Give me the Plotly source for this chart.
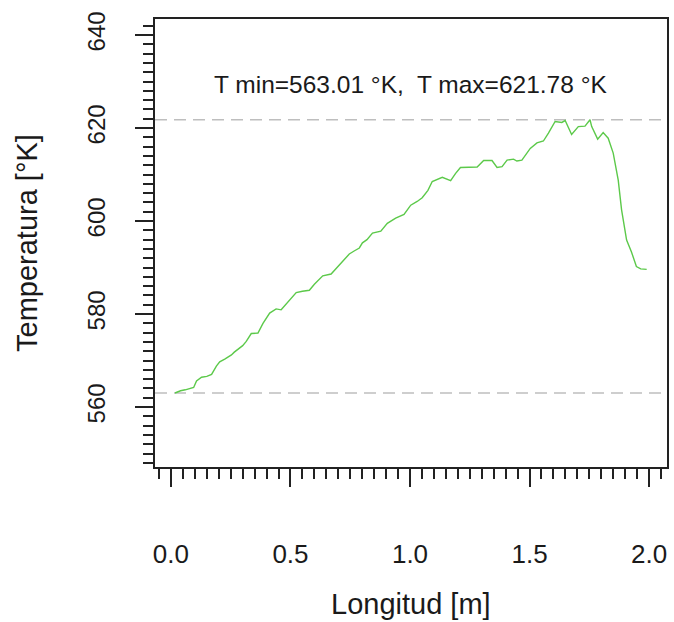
import plotly.graph_objects as go

# Data
longitud = [0.017, 0.04, 0.06, 0.079, 0.095, 0.107, 0.128, 0.15, 0.170, 0.19,
            0.204, 0.225, 0.253, 0.265, 0.280, 0.30, 0.315, 0.336, 0.364, 0.385,
            0.413, 0.440, 0.461, 0.482, 0.50, 0.524, 0.55, 0.579, 0.600, 0.614,
            0.635, 0.670, 0.704, 0.725, 0.746, 0.768, 0.788, 0.801, 0.82, 0.843,
            0.878, 0.905, 0.940, 0.975, 1.003, 1.03, 1.051, 1.075, 1.093, 1.135,
            1.170, 1.19, 1.211, 1.281, 1.308, 1.343, 1.364, 1.385, 1.406, 1.433,
            1.447, 1.468, 1.49, 1.503, 1.531, 1.558, 1.579, 1.595, 1.607, 1.635,
            1.649, 1.676, 1.704, 1.732, 1.753, 1.760, 1.785, 1.808, 1.829, 1.850,
            1.871, 1.885, 1.906, 1.926, 1.947, 1.965, 1.990]
temperatura = [563.01, 563.5, 563.7, 564.0, 564.2, 565.6, 566.4, 566.6, 567.0, 568.8,
               569.7, 570.3, 571.2, 571.8, 572.4, 573.2, 574.1, 575.8, 575.9, 578.0,
               580.2, 581.1, 580.9, 582.2, 583.2, 584.6, 584.9, 585.1, 586.4, 587.1,
               588.2, 588.6, 590.6, 591.6, 592.9, 593.6, 594.2, 595.3, 596.0, 597.4,
               597.8, 599.5, 600.6, 601.4, 603.4, 604.2, 605.0, 606.6, 608.5, 609.4,
               608.7, 610.2, 611.5, 611.6, 613.0, 613.0, 611.5, 611.7, 613.1, 613.3,
               612.9, 613.1, 614.6, 615.6, 616.8, 617.2, 618.9, 620.4, 621.4, 621.2,
               621.6, 618.6, 620.3, 620.4, 621.78, 620.3, 617.6, 619.0, 617.8, 614.6,
               608.8, 602.4, 595.9, 593.4, 590.2, 589.7, 589.6]
x_ticks = [0.0, 0.5, 1.0, 1.5, 2.0]
x_tick_labels = ["0.0", "0.5", "1.0", "1.5", "2.0"]
y_ticks = [560, 580, 600, 620, 640]
y_tick_labels = ["560", "580", "600", "620", "640"]

tmin = min(temperatura)
tmax = max(temperatura)

FONT = "Liberation Sans, Arial, sans-serif"
INK = "#1a1a1a"

fig = go.Figure()
fig.add_trace(go.Scatter(x=longitud, y=temperatura, mode="lines",
                         line=dict(color="#5cc94a", width=1.4),
                         showlegend=False, hoverinfo="skip"))

for yv in (tmin, tmax):
    fig.add_shape(type="line", xref="paper", x0=0, x1=1, yref="y", y0=yv, y1=yv,
                  line=dict(color="#bebebe", width=1.5, dash="12px,7px"), layer="below")

fig.add_annotation(x=1.0, y=629.3, xref="x", yref="y", showarrow=False,
                   text=f"T min={tmin:.2f} °K,\u00a0 T max={tmax:.2f} °K",
                   font=dict(family=FONT, size=24.5, color=INK),
                   xanchor="center", yanchor="middle")

fig.add_annotation(x=0.5, y=0, xref="paper", yref="paper", showarrow=False,
                   text="Longitud [m]", font=dict(family=FONT, size=29, color=INK),
                   xanchor="center", yanchor="middle", yshift=-137)
fig.add_annotation(x=0, y=0.5, xref="paper", yref="paper", showarrow=False,
                   text="Temperatura [°K]", textangle=-90,
                   font=dict(family=FONT, size=29, color=INK),
                   xanchor="center", yanchor="middle", xshift=-128)

axis_common = dict(showgrid=False, zeroline=False, showline=True, mirror=True,
                   linecolor="#222222", linewidth=1.5, ticks="outside",
                   ticklen=18, tickwidth=1.5, tickcolor="#222222")

fig.update_xaxes(range=[-0.0667, 2.075], tickvals=x_ticks, ticktext=x_tick_labels,
                 ticklabelstandoff=45,
                 tickfont=dict(family=FONT, size=26, color=INK),
                 minor=dict(dtick=0.05, tick0=0, ticklen=10, tickwidth=1.5,
                            tickcolor="#222222", ticks="outside", showgrid=False),
                 **axis_common)
fig.update_yaxes(range=[547.1, 643.44], tickvals=y_ticks, ticktext=y_tick_labels,
                 tickangle=-90, ticklabelstandoff=21,
                 tickfont=dict(family=FONT, size=24, color=INK),
                 minor=dict(dtick=2, tick0=0, ticklen=10, tickwidth=1.5,
                            tickcolor="#222222", ticks="outside", showgrid=False),
                 **axis_common)

fig.update_layout(width=674, height=622, margin=dict(l=155, r=5, t=19, b=155),
                  plot_bgcolor="white", paper_bgcolor="white",
                  font=dict(family=FONT, color=INK))

fig.write_html("out.html")
